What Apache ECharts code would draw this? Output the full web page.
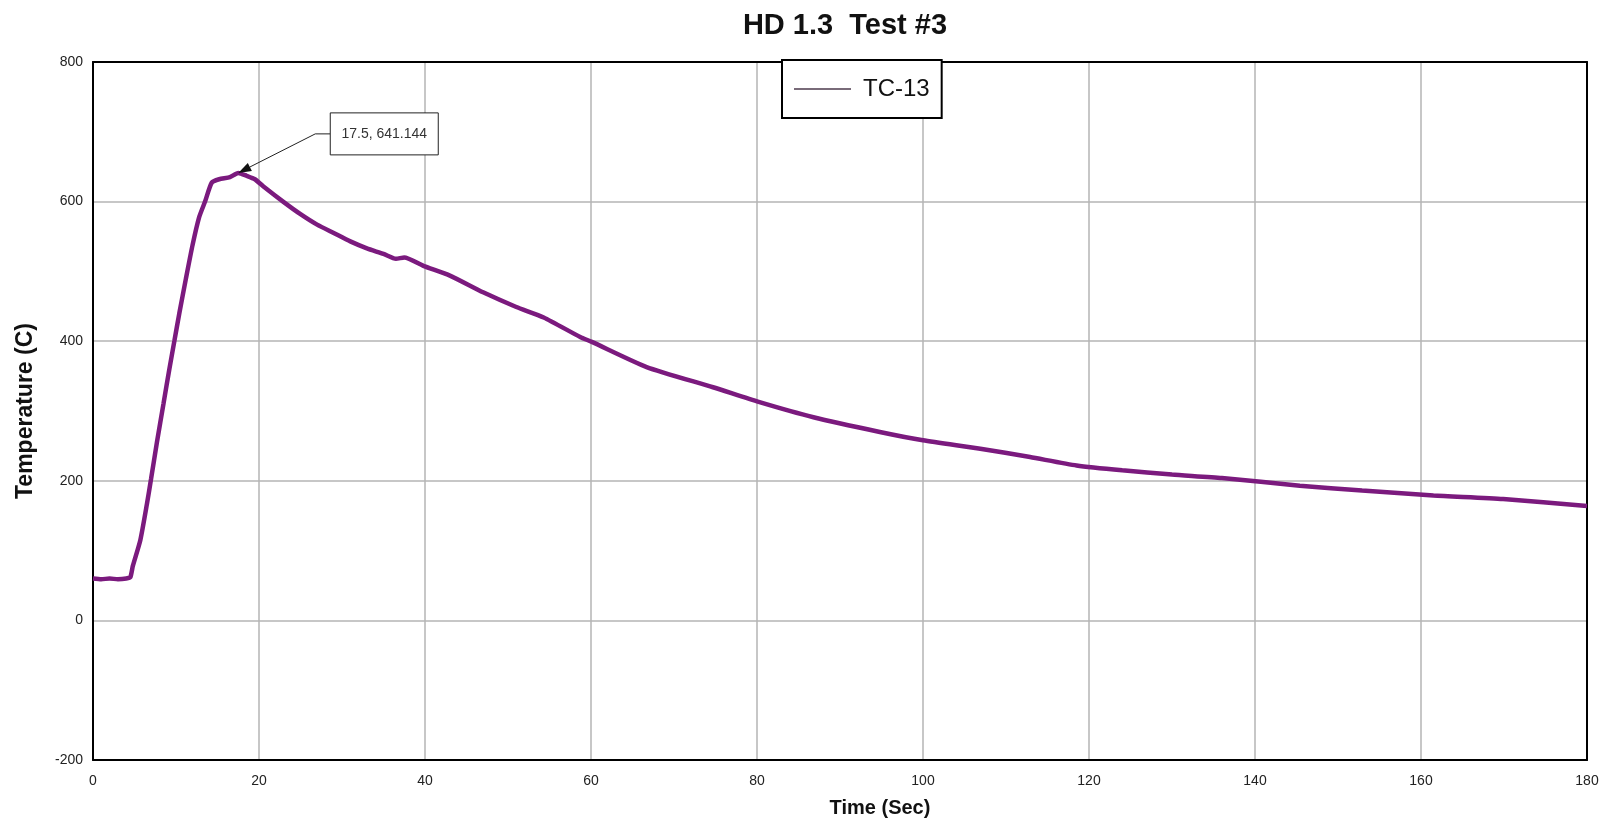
<!DOCTYPE html>
<html>
<head>
<meta charset="utf-8">
<script src="https://cdn.jsdelivr.net/npm/echarts@6/dist/echarts.min.js"></script>
<style>
  html, body { margin: 0; padding: 0; background: #fff; }
  #chart { width: 1608px; height: 826px; }
</style>
</head>
<body>
<div id="chart"></div>
<script>
// TC-13 readings
var timeSec = [0, 1, 2, 3, 4, 4.5, 4.8, 5.7, 6.5, 7, 7.7, 8.5, 9.2, 9.8, 10.4, 11.2, 12, 12.8, 13.5, 14.3,
  15.2, 16.5, 17.5, 18.5, 19.5, 20.5, 22.9, 25, 27, 29, 31, 33, 35, 36.5, 37.5, 39.8, 43, 47, 51, 54.3,
  58.7, 60.1, 66.7, 74.7, 80.2, 86.8, 94.8, 100, 106.9, 112.9, 118.5, 124, 130, 136, 145.4, 152.9, 161.5, 169.9, 180];
var tempC = [60, 59, 60, 59, 60, 62, 78, 115, 167, 203, 255, 311, 360, 400, 440, 490, 538, 578, 600, 627,
  632, 635, 641.144, 637, 632, 622, 600, 582, 567, 555, 543, 533, 525, 518, 520, 508, 494, 470, 449, 434,
  406, 399, 363, 334, 313, 291, 270, 258, 246, 234, 222, 215, 209, 204, 193, 186, 179, 174, 164];
var peak = [17.5, 641.144];
var xTicks = { min: 0, max: 180, step: 20 };
var yTicks = { min: -200, max: 800, step: 200 };

var font = '"Liberation Sans", Arial, sans-serif';
var chart = echarts.init(document.getElementById('chart'));

var frameAxis = {
  show: true,
  axisLine: { show: true, onZero: false, lineStyle: { color: '#000', width: 2 } },
  axisTick: { show: false },
  axisLabel: { show: false },
  splitLine: { show: false }
};

var option = {
  backgroundColor: '#fff',
  animation: false,
  title: {
    text: 'HD 1.3  Test #3',
    left: 840,
    top: 6,
    textAlign: 'center',
    textStyle: { fontFamily: font, fontSize: 29, fontWeight: 'bold', color: '#111' }
  },
  legend: {
    data: ['TC-13'],
    left: 782,
    top: 60,
    padding: [17, 12, 17, 12],
    backgroundColor: '#fff',
    borderColor: '#000',
    borderWidth: 2,
    borderRadius: 0,
    icon: 'path://M0 0H57V1.5H0Z',
    itemWidth: 57,
    itemHeight: 2,
    itemStyle: { color: '#4d3a4d' },
    textStyle: { fontFamily: font, fontSize: 24, color: '#111', padding: [0, 0, 0, 7] }
  },
  grid: {
    left: 93, right: 21, top: 62, bottom: 66
  },
  xAxis: [{
    type: 'value',
    min: xTicks.min, max: xTicks.max, interval: xTicks.step,
    name: 'Time (Sec)',
    nameLocation: 'middle',
    nameGap: 38,
    nameTextStyle: { fontFamily: font, fontSize: 20, fontWeight: 'bold', color: '#111', padding: [0, 0, 0, 80] },
    axisLine: { onZero: false, lineStyle: { color: '#000', width: 2 } },
    axisTick: { show: false },
    axisLabel: { fontFamily: font, fontSize: 14, color: '#222', margin: 14 },
    splitLine: { lineStyle: { color: '#b4b4b4', width: 1.5 } }
  }, Object.assign({ type: 'value', position: 'top', min: xTicks.min, max: xTicks.max }, frameAxis)],
  yAxis: [{
    type: 'value',
    min: yTicks.min, max: yTicks.max, interval: yTicks.step,
    name: 'Temperature (C)',
    nameLocation: 'middle',
    nameGap: 56,
    nameTextStyle: { fontFamily: font, fontSize: 23, fontWeight: 'bold', color: '#111' },
    axisLine: { onZero: false, lineStyle: { color: '#000', width: 2 } },
    axisTick: { show: false },
    axisLabel: { fontFamily: font, fontSize: 14, color: '#222', margin: 10 },
    splitLine: { lineStyle: { color: '#b4b4b4', width: 1.5 } }
  }, Object.assign({ type: 'value', position: 'right', min: yTicks.min, max: yTicks.max }, frameAxis)],
  series: [{
    name: 'TC-13',
    type: 'line',
    data: timeSec.map(function (t, i) { return [t, tempC[i]]; }),
    showSymbol: false,
    symbol: 'none',
    smooth: 0.2,
    lineStyle: { color: '#7b1a7e', width: 4.5 },
    itemStyle: { color: '#7b1a7e' }
  }]
};
chart.setOption(option);

// peak annotation, anchored on the data point
var p = chart.convertToPixel({ xAxisIndex: 0, yAxisIndex: 0 }, peak);
var elbow = [p[0] + 77, p[1] - 39];
var dx = p[0] - elbow[0], dy = p[1] - elbow[1];
var len = Math.sqrt(dx * dx + dy * dy);
var ux = dx / len, uy = dy / len;
var base = [p[0] - ux * 13, p[1] - uy * 13];
chart.setOption({
  graphic: [
    { type: 'polyline', z: 10, shape: { points: [[p[0] + 92, elbow[1]], elbow, base] }, style: { stroke: '#222', lineWidth: 1, fill: null } },
    { type: 'polygon', z: 10, shape: { points: [p, [base[0] - uy * 4.5, base[1] + ux * 4.5], [base[0] + uy * 4.5, base[1] - ux * 4.5]] }, style: { fill: '#111' } },
    { type: 'rect', z: 10, shape: { x: p[0] + 92, y: p[1] - 60, width: 108, height: 42 }, style: { fill: '#fff', stroke: '#222', lineWidth: 1 } },
    { type: 'text', z: 11, x: p[0] + 146, y: p[1] - 39, style: { text: peak[0] + ', ' + peak[1], fontFamily: font, fontSize: 14, fill: '#333', align: 'center', verticalAlign: 'middle' } }
  ]
});
</script>
</body>
</html>
